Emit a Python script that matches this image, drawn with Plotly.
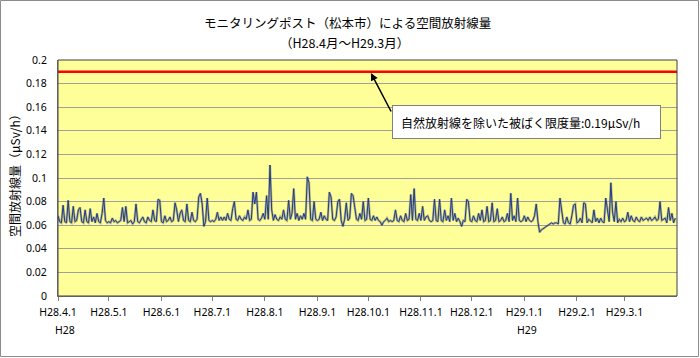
import plotly.graph_objects as go
import pandas as pd

# daily dose rate values (μSv/h), one list per month
apr = [0.068,0.063,0.062,0.077,0.063,0.062,0.081,0.063,0.062,0.076,0.063,0.064,0.073,0.075,0.063,
       0.062,0.073,0.063,0.062,0.074,0.063,0.067,0.062,0.070,0.063,0.062,0.070,0.083,0.064,0.062]
may = [0.063,0.062,0.066,0.063,0.064,0.062,0.063,0.064,0.075,0.063,0.076,0.062,0.063,0.064,0.061,
       0.063,0.078,0.063,0.062,0.064,0.067,0.063,0.062,0.067,0.064,0.063,0.073,0.064,0.063,0.082,0.081]
jun = [0.063,0.062,0.068,0.063,0.064,0.067,0.063,0.064,0.079,0.073,0.063,0.070,0.073,0.064,0.063,
       0.078,0.064,0.063,0.071,0.064,0.063,0.065,0.084,0.087,0.078,0.059,0.063,0.083,0.064,0.063]
jul = [0.064,0.063,0.065,0.071,0.064,0.067,0.064,0.067,0.064,0.070,0.065,0.064,0.074,0.080,0.065,
       0.064,0.068,0.065,0.064,0.067,0.065,0.073,0.064,0.065,0.088,0.078,0.088,0.065,0.064,0.066,0.070]
aug = [0.065,0.085,0.065,0.111,0.073,0.064,0.069,0.065,0.064,0.067,0.065,0.073,0.065,0.064,0.081,
       0.065,0.070,0.091,0.065,0.070,0.064,0.068,0.065,0.070,0.065,0.101,0.096,0.065,0.064,0.080,0.065]
sep = [0.064,0.065,0.071,0.064,0.068,0.065,0.064,0.088,0.084,0.065,0.064,0.067,0.080,0.082,0.064,
       0.059,0.065,0.079,0.064,0.066,0.087,0.085,0.075,0.065,0.064,0.070,0.065,0.080,0.064,0.065]
oct_ = [0.083,0.065,0.064,0.068,0.064,0.067,0.064,0.063,0.060,0.063,0.064,0.066,0.063,0.064,0.063,
        0.064,0.073,0.064,0.063,0.068,0.064,0.063,0.070,0.064,0.065,0.086,0.064,0.091,0.065,0.064,0.070]
nov = [0.064,0.076,0.064,0.067,0.068,0.064,0.063,0.064,0.082,0.064,0.063,0.082,0.064,0.063,0.073,
       0.064,0.068,0.063,0.083,0.064,0.070,0.063,0.066,0.063,0.059,0.064,0.063,0.082,0.080,0.064]
dec = [0.063,0.068,0.064,0.063,0.070,0.064,0.073,0.063,0.064,0.076,0.063,0.064,0.079,0.063,0.064,
       0.074,0.063,0.064,0.067,0.063,0.064,0.070,0.063,0.087,0.064,0.068,0.063,0.083,0.064,0.063,0.064]
jan = [0.068,0.063,0.067,0.064,0.063,0.064,0.068,0.078,0.063,0.054,0.056,0.057,0.058,0.059,0.060,
       0.061,0.062,0.061,0.062,0.062,0.061,0.083,0.073,0.062,0.061,0.067,0.062,0.061,0.068,0.077,0.078]
feb = [0.062,0.063,0.066,0.062,0.079,0.078,0.062,0.065,0.063,0.062,0.073,0.063,0.066,0.062,0.066,
       0.063,0.062,0.083,0.073,0.063,0.096,0.071,0.063,0.080,0.062,0.065,0.063,0.066]
mar = [0.063,0.064,0.071,0.063,0.068,0.064,0.063,0.067,0.064,0.063,0.067,0.064,0.065,0.066,0.064,
       0.067,0.064,0.065,0.067,0.064,0.065,0.080,0.064,0.065,0.066,0.062,0.075,0.064,0.070,0.062,0.066]

start_date = "2016-04-01"
end_date = "2017-04-01"
limit_value = 0.19

tick_dates = ["2016-04-01","2016-05-01","2016-06-01","2016-07-01","2016-08-01","2016-09-01",
              "2016-10-01","2016-11-01","2016-12-01","2017-01-01","2017-02-01","2017-03-01"]
tick_labels = ["H28.4.1","H28.5.1","H28.6.1","H28.7.1","H28.8.1","H28.9.1",
               "H28.10.1","H28.11.1","H28.12.1","H29.1.1","H29.2.1","H29.3.1"]
y_ticks = [0, 0.02, 0.04, 0.06, 0.08, 0.1, 0.12, 0.14, 0.16, 0.18, 0.2]
y_labels = ["0", "0.02", "0.04", "0.06", "0.08", "0.1", "0.12", "0.14", "0.16", "0.18", "0.2"]

values = apr + may + jun + jul + aug + sep + oct_ + nov + dec + jan + feb + mar
dates = pd.date_range(start_date, periods=len(values), freq="D")

W, H = 700, 358
L, R, T, B = 58, 23, 60, 62
pw, ph = W - L - R, H - T - B

def px(xp):
    return (xp - L) / pw

def py(yp):
    return (H - B - yp) / ph

fig = go.Figure()
# soft shadow under the data line
fig.add_trace(go.Scatter(x=dates, y=values, mode="lines",
                         line=dict(color="rgba(110,110,110,0.5)", width=2.4),
                         hoverinfo="skip", showlegend=False))
fig.add_trace(go.Scatter(x=dates, y=values, mode="lines",
                         line=dict(color="#1F3C8C", width=1), showlegend=False))
fig.add_trace(go.Scatter(x=[start_date, end_date], y=[limit_value, limit_value], mode="lines",
                         line=dict(color="#FF0000", width=2.5), showlegend=False))

base_font = "Noto Sans, Noto Sans CJK JP, sans-serif"
cjk_font = "Noto Sans CJK JP, sans-serif"

fig.update_layout(
    width=W, height=H,
    margin=dict(l=L, r=R, t=T, b=B),
    paper_bgcolor="white",
    plot_bgcolor="#FFFF99",
    font=dict(family=base_font, size=10.5, color="#000000"),
    showlegend=False,
    xaxis=dict(type="date", range=[start_date, end_date],
               tickmode="array", tickvals=tick_dates, ticktext=tick_labels,
               showgrid=False, ticks="outside", ticklen=4, tickcolor="#808080",
               showline=True, linecolor="#808080", linewidth=1,
               tickfont=dict(family=base_font, size=10.5, color="#000000"),
               ticklabelstandoff=2, zeroline=False),
    yaxis=dict(range=[0, 0.2], tickmode="array", tickvals=y_ticks, ticktext=y_labels,
               showgrid=True, gridcolor="#A0A0A0", gridwidth=1,
               ticks="", showline=True, linecolor="#808080", linewidth=1,
               tickfont=dict(family=base_font, size=10.5, color="#000000"),
               ticklabelstandoff=8, zeroline=False),
)

shapes = [
    dict(type="rect", xref="paper", yref="paper", x0=0, x1=1, y0=0, y1=1,
         line=dict(color="#404040", width=1), fillcolor="rgba(0,0,0,0)", layer="above"),
    dict(type="rect", xref="paper", yref="paper", x0=px(0.5), x1=px(698.5), y0=py(356.5), y1=py(0.5),
         line=dict(color="#8C8C8C", width=1), fillcolor="rgba(0,0,0,0)"),
]
fig.update_layout(shapes=shapes)

def label(text, x, y, size=10.5, family=base_font, **kw):
    return dict(text=text, xref="paper", yref="paper", x=px(x), y=py(y),
                xanchor="center", yanchor="middle", showarrow=False,
                font=dict(family=family, size=size, color="#000"), **kw)

annotations = [
    label("モニタリングポスト（松本市）による空間放射線量", 347, 22, 12.5, cjk_font),
    label("（H28.4月～H29.3月）", 344, 42, 12.5, cjk_font),
    label("空間放射線量（μSv/h）", 14, 172, 12, cjk_font, textangle=-90),
    label("H28", 65, 330),
    label("H29", 527, 330),
    dict(text="", x="2016-10-02 12:00", y=0.189, xref="x", yref="y",
         showarrow=True, ax=21, ay=40, arrowhead=2, arrowsize=1, arrowwidth=1.5,
         arrowcolor="#000000", standoff=0),
    dict(text="自然放射線を除いた被ばく限度量:0.19μSv/h", xref="paper", yref="paper",
         x=px(392), y=py(105), xanchor="left", yanchor="top", showarrow=False,
         align="left", width=251, height=16, borderpad=8,
         bgcolor="#FFFFFF", bordercolor="#808080", borderwidth=1,
         font=dict(family=cjk_font, size=12, color="#000")),
]
fig.update_layout(annotations=annotations)

fig.write_html("out.html", config={"displayModeBar": False},
               post_script="document.body.style.margin='0';document.body.style.overflow='hidden';")
